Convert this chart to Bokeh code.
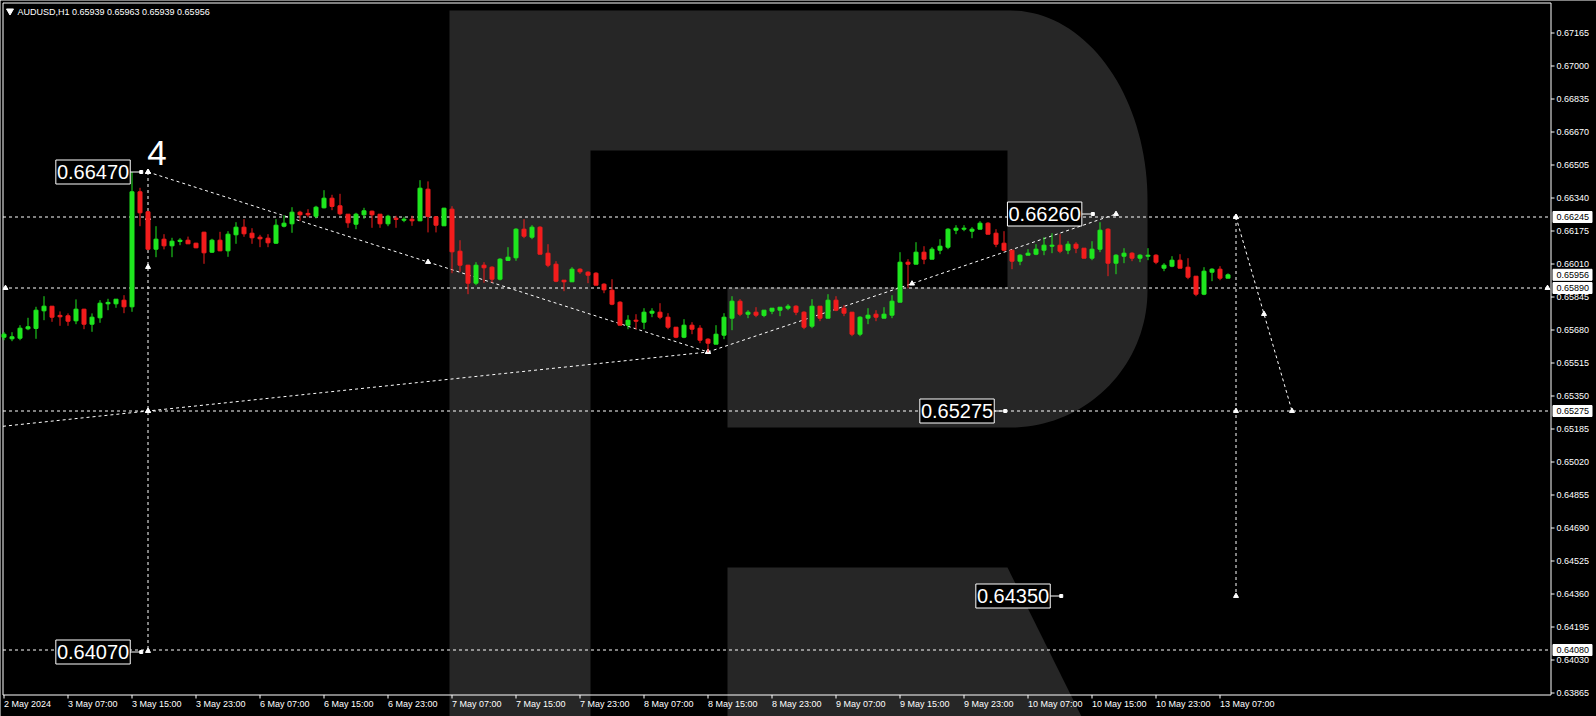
import numpy as np
from bokeh.plotting import figure
from bokeh.models import Range1d, ColumnDataSource
from bokeh.core.properties import value
from bokeh.embed import file_html
from bokeh.resources import INLINE

# ---------------- data ----------------
symbol = "AUDUSD,H1"
last_ohlc = ["0.65939", "0.65963", "0.65939", "0.65956"]

time_labels = ["2 May 2024", "3 May 07:00", "3 May 15:00", "3 May 23:00", "6 May 07:00",
               "6 May 15:00", "6 May 23:00", "7 May 07:00", "7 May 15:00", "7 May 23:00",
               "8 May 07:00", "8 May 15:00", "8 May 23:00", "9 May 07:00", "9 May 15:00",
               "9 May 23:00", "10 May 07:00", "10 May 15:00", "10 May 23:00", "13 May 07:00"]
bars_per_label = 8

open_ = [0.65644, 0.65636, 0.65639, 0.65686, 0.65688, 0.65776, 0.65799, 0.65753, 0.65751, 0.65726,
         0.65784, 0.65709, 0.65741, 0.65811, 0.65811, 0.65829, 0.65796, 0.66371, 0.66271, 0.66084,
         0.66134, 0.66101, 0.66123, 0.66129, 0.66114, 0.66169, 0.66069, 0.66129, 0.66076, 0.66156,
         0.66194, 0.66164, 0.66144, 0.66139, 0.66114, 0.66199, 0.66211, 0.66269, 0.66263, 0.66249,
         0.66291, 0.66339, 0.66301, 0.66259, 0.66209, 0.66256, 0.66274, 0.66259, 0.66211, 0.66239,
         0.66229, 0.66234, 0.66226, 0.66384, 0.66246, 0.66201, 0.66284, 0.66074, 0.66004, 0.65914,
         0.66004, 0.65994, 0.65934, 0.66028, 0.66041, 0.66184, 0.66144, 0.66194, 0.66064, 0.66009,
         0.65929, 0.65921, 0.65984, 0.65969, 0.65964, 0.65909, 0.65879, 0.65819, 0.65704, 0.65729,
         0.65719, 0.65764, 0.65769, 0.65744, 0.65694, 0.65644, 0.65704, 0.65689, 0.65634, 0.65609,
         0.65654, 0.65739, 0.65824, 0.65759, 0.65769, 0.65753, 0.65774, 0.65779, 0.65789, 0.65799,
         0.65769, 0.65699, 0.65799, 0.65739, 0.65829, 0.65789, 0.65769, 0.65659, 0.65739, 0.65759,
         0.65739, 0.65754, 0.65819, 0.66019, 0.66009, 0.66069, 0.66034, 0.66079, 0.66094, 0.66179,
         0.66184, 0.66174, 0.66184, 0.66214, 0.66164, 0.66114, 0.66079, 0.66024, 0.66054, 0.66059,
         0.66079, 0.66099, 0.66104, 0.66079, 0.66109, 0.66089, 0.66039, 0.66084, 0.66184, 0.66014,
         0.66049, 0.66064, 0.66039, 0.66049, 0.66054, 0.65989, 0.65999, 0.66029, 0.65994, 0.65949,
         0.65859, 0.65969, 0.65984, 0.65939]
high = [0.65669, 0.65669, 0.65704, 0.65741, 0.65796, 0.65849, 0.65799, 0.65773, 0.65763, 0.65833,
        0.65786, 0.65763, 0.65829, 0.65836, 0.65834, 0.65854, 0.66470, 0.66391, 0.66276, 0.66199,
        0.66159, 0.66141, 0.66139, 0.66147, 0.66116, 0.66171, 0.66136, 0.66171, 0.66174, 0.66219,
        0.66234, 0.66189, 0.66156, 0.66159, 0.66234, 0.66254, 0.66294, 0.66276, 0.66284, 0.66301,
        0.66379, 0.66356, 0.66361, 0.66259, 0.66266, 0.66291, 0.66277, 0.66259, 0.66256, 0.66251,
        0.66246, 0.66251, 0.66429, 0.66423, 0.66248, 0.66291, 0.66299, 0.66129, 0.66006, 0.66019,
        0.66019, 0.65999, 0.66039, 0.66094, 0.66189, 0.66234, 0.66204, 0.66199, 0.66109, 0.66024,
        0.65929, 0.65994, 0.65989, 0.65974, 0.65969, 0.65914, 0.65934, 0.65824, 0.65754, 0.65759,
        0.65789, 0.65789, 0.65814, 0.65764, 0.65694, 0.65734, 0.65719, 0.65704, 0.65639, 0.65704,
        0.65764, 0.65849, 0.65834, 0.65779, 0.65794, 0.65779, 0.65789, 0.65794, 0.65809, 0.65804,
        0.65774, 0.65834, 0.65799, 0.65859, 0.65849, 0.65804, 0.65769, 0.65749, 0.65789, 0.65779,
        0.65794, 0.65854, 0.66069, 0.66034, 0.66119, 0.66099, 0.66094, 0.66134, 0.66189, 0.66204,
        0.66204, 0.66194, 0.66224, 0.66219, 0.66184, 0.66174, 0.66079, 0.66059, 0.66084, 0.66109,
        0.66144, 0.66164, 0.66159, 0.66124, 0.66119, 0.66089, 0.66124, 0.66219, 0.66189, 0.66059,
        0.66089, 0.66069, 0.66059, 0.66089, 0.66059, 0.66014, 0.66049, 0.66059, 0.66039, 0.65949,
        0.65994, 0.65989, 0.65999, 0.65963]
low = [0.65629, 0.65624, 0.65629, 0.65679, 0.65636, 0.65729, 0.65721, 0.65701, 0.65701, 0.65709,
       0.65684, 0.65671, 0.65716, 0.65779, 0.65791, 0.65764, 0.65771, 0.66199, 0.66079, 0.66044,
       0.66083, 0.66044, 0.66104, 0.66111, 0.66089, 0.66011, 0.66066, 0.66074, 0.66046, 0.66111,
       0.66146, 0.66111, 0.66094, 0.66094, 0.66111, 0.66193, 0.66166, 0.66226, 0.66244, 0.66238,
       0.66288, 0.66279, 0.66253, 0.66191, 0.66184, 0.66236, 0.66191, 0.66191, 0.66199, 0.66191,
       0.66219, 0.66201, 0.66224, 0.66168, 0.66168, 0.66201, 0.65964, 0.65971, 0.65859, 0.65904,
       0.65916, 0.65916, 0.65928, 0.66026, 0.66026, 0.66139, 0.66134, 0.66059, 0.65994, 0.65919,
       0.65874, 0.65921, 0.65961, 0.65914, 0.65904, 0.65864, 0.65804, 0.65704, 0.65684, 0.65684,
       0.65684, 0.65744, 0.65734, 0.65684, 0.65639, 0.65639, 0.65659, 0.65614, 0.65569, 0.65609,
       0.65634, 0.65679, 0.65749, 0.65739, 0.65744, 0.65744, 0.65759, 0.65749, 0.65779, 0.65754,
       0.65684, 0.65689, 0.65724, 0.65739, 0.65774, 0.65749, 0.65649, 0.65649, 0.65709, 0.65724,
       0.65739, 0.65739, 0.65819, 0.65889, 0.66009, 0.66009, 0.66034, 0.66059, 0.66084, 0.66159,
       0.66174, 0.66139, 0.66184, 0.66159, 0.66094, 0.66074, 0.65984, 0.66004, 0.66054, 0.66054,
       0.66054, 0.66064, 0.66064, 0.66059, 0.66064, 0.66039, 0.66029, 0.66069, 0.65949, 0.65959,
       0.66014, 0.66024, 0.66019, 0.66029, 0.66009, 0.65974, 0.65994, 0.65989, 0.65934, 0.65849,
       0.65854, 0.65924, 0.65929, 0.65939]
close = [0.65659, 0.65646, 0.65689, 0.65696, 0.65779, 0.65799, 0.65744, 0.65746, 0.65724, 0.65784,
         0.65709, 0.65744, 0.65814, 0.65818, 0.65834, 0.65796, 0.66371, 0.66266, 0.66084, 0.66134,
         0.66101, 0.66124, 0.66129, 0.66111, 0.66091, 0.66066, 0.66129, 0.66076, 0.66159, 0.66194,
         0.66161, 0.66141, 0.66136, 0.66116, 0.66204, 0.66214, 0.66269, 0.66256, 0.66256, 0.66294,
         0.66339, 0.66298, 0.66261, 0.66216, 0.66259, 0.66276, 0.66256, 0.66211, 0.66249, 0.66233,
         0.66234, 0.66226, 0.66389, 0.66248, 0.66204, 0.66289, 0.66071, 0.66004, 0.65914, 0.66004,
         0.65991, 0.65934, 0.66034, 0.66044, 0.66184, 0.66149, 0.66194, 0.66059, 0.66004, 0.65924,
         0.65921, 0.65984, 0.65971, 0.65954, 0.65904, 0.65881, 0.65809, 0.65704, 0.65729, 0.65724,
         0.65769, 0.65774, 0.65744, 0.65694, 0.65644, 0.65704, 0.65684, 0.65629, 0.65614, 0.65659,
         0.65744, 0.65824, 0.65759, 0.65769, 0.65754, 0.65779, 0.65789, 0.65794, 0.65799, 0.65769,
         0.65694, 0.65799, 0.65739, 0.65829, 0.65779, 0.65764, 0.65659, 0.65744, 0.65754, 0.65744,
         0.65759, 0.65824, 0.66019, 0.66009, 0.66069, 0.66034, 0.66084, 0.66099, 0.66184, 0.66189,
         0.66189, 0.66184, 0.66214, 0.66159, 0.66109, 0.66079, 0.66024, 0.66054, 0.66064, 0.66084,
         0.66104, 0.66104, 0.66074, 0.66109, 0.66089, 0.66039, 0.66084, 0.66179, 0.66014, 0.66054,
         0.66064, 0.66039, 0.66054, 0.66054, 0.66019, 0.66004, 0.66029, 0.65989, 0.65944, 0.65859,
         0.65974, 0.65984, 0.65939, 0.65956]

price_ticks = [0.67165, 0.67000, 0.66835, 0.66670, 0.66505, 0.66340, 0.66175, 0.66010, 0.65845,
               0.65680, 0.65515, 0.65350, 0.65185, 0.65020, 0.64855, 0.64690, 0.64525, 0.64360,
               0.64195, 0.64030, 0.63865]
levels = [0.66245, 0.65890, 0.65275, 0.64080]
axis_tags = [0.66245, 0.65956, 0.65890, 0.65275, 0.64080]

# wave / forecast annotation points (bar index, price)
down_x, down_y = [18, 53, 88], [0.66470, 0.66020, 0.65570]
lowline_x, lowline_y = [18, 88], [0.65275, 0.65570]
up_x, up_y = [88, 113.5, 139], [0.65570, 0.65912, 0.66260]
vleft_x, vleft_y = 18, [0.66470, 0.66240, 0.65995, 0.65275, 0.64075]
vright_x, vright_y = 154, [0.66245, 0.65275, 0.64350]
diag_x, diag_y = [154, 157.5, 161], [0.66245, 0.65760, 0.65275]
target_text = ["0.66470", "0.64070", "0.66260", "0.65275", "0.64350"]
target_price = [0.66470, 0.64070, 0.66260, 0.65275, 0.64350]
target_box_right = [15.78, 15.78, 134.73, 123.78, 130.78]   # bar position of box right edge
wave_label, wave_label_x, wave_label_p = "4", 17.9, 0.66567

# ---------------- layout / scales ----------------
W, H = 1596, 716
PXB = 8.0            # pixels per bar
PXP = 20000.0        # pixels per price unit
X0 = -0.4375         # bar index at canvas left
P0 = 0.673275        # price at canvas top

def bx(px):
    return X0 + px / PXB

def pp(py):
    return P0 - py / PXP

GREEN = "#1ee61e"
RED = "#f21c1c"
WM = "#262626"
FONT = value("Liberation Sans")

p = figure(width=W, height=H, title=None,
           x_range=Range1d(X0, X0 + W / PXB), y_range=Range1d(P0 - H / PXP, P0),
           toolbar_location=None, output_backend="svg", min_border=0,
           x_axis_location=None, y_axis_location=None,
           background_fill_color="#000000", border_fill_color="#000000",
           outline_line_color=None)
p.xgrid.visible = False
p.ygrid.visible = False
p.styles = {"position": "absolute", "left": "0px", "top": "0px"}

# ---------------- watermark "R" ----------------
t1 = np.linspace(-np.pi / 2, 0, 40)
t2 = np.linspace(0, np.pi / 2, 40)
ax = [449, 449] + list(1010 + 137 * np.cos(t1)) + list(1010 + 137 * np.cos(t2)) + [727, 727, 1007, 1007, 590, 590]
ay = [716, 10] + list(200 + 190 * np.sin(t1)) + list(290 + 137 * np.sin(t2)) + [427, 287, 287, 150, 150, 716]
lx = [727, 1007, 1081, 727]
ly = [567, 567, 716, 716]
p.patches(xs=[[bx(v) for v in ax], [bx(v) for v in lx]],
          ys=[[pp(v) for v in ay], [pp(v) for v in ly]],
          fill_color=WM, line_color=None)

# ---------------- frame ----------------
fl, fr, ft, fb = bx(2.5), bx(1550.5), pp(2.5), pp(694.5)
p.multi_line(xs=[[fl, fr, fr, fl, fl]], ys=[[ft, ft, fb, fb, ft]], line_color="white", line_width=1)

# ---------------- level lines ----------------
p.multi_line(xs=[[fl, fr] for _ in levels], ys=[[lv, lv] for lv in levels],
             line_color="white", line_width=1, line_dash="3 3")

# ---------------- wave lines ----------------
slope = (lowline_y[1] - lowline_y[0]) / (lowline_x[1] - lowline_x[0])
low_left = lowline_y[0] + slope * (fl - lowline_x[0])
wave_xs = [down_x, [fl] + lowline_x, up_x, [vleft_x, vleft_x], [vright_x, vright_x], diag_x]
wave_ys = [down_y, [low_left] + lowline_y, up_y, [vleft_y[0], vleft_y[-1]],
           [vright_y[0], vright_y[-1]], diag_y]
p.multi_line(xs=wave_xs, ys=wave_ys, line_color="white", line_width=1, line_dash="3 3")

mx = (down_x + [lowline_x[0]] + up_x + [vleft_x] * len(vleft_y) + [vright_x] * len(vright_y)
      + diag_x + [bx(5), bx(1547)])
my = (down_y + [lowline_y[0]] + up_y + vleft_y + vright_y + diag_y + [levels[1], levels[1]])
p.scatter(x=mx, y=my, marker="triangle", size=5, fill_color="white", line_color="white")

# ---------------- candles ----------------
o = np.array(open_)
c = np.array(close)
idx = np.arange(len(o))
cols = np.where(c >= o, GREEN, RED)
src = ColumnDataSource(dict(x=idx, top=np.maximum(o, c), bottom=np.minimum(o, c),
                            high=high, low=low, color=cols))
p.segment(x0="x", y0="high", x1="x", y1="low", line_color="color", line_width=1, source=src)
p.vbar(x="x", width=0.5, top="top", bottom="bottom", fill_color="color",
       line_color="color", line_width=1, source=src)

# ---------------- target boxes ----------------
bw = 74.4 / PXB
bh = 12 / PXP
rights = np.array(target_box_right)
tp = np.array(target_price)
p.quad(left=rights - bw, right=rights, top=tp + bh, bottom=tp - bh,
       fill_color="black", line_color="white", line_width=1)
p.text(x=rights - bw / 2, y=tp, text=target_text, text_color="white",
       text_font=FONT, text_font_size="20px",
       text_align="center", text_baseline="middle")
p.segment(x0=rights, y0=tp, x1=rights + 11 / PXB, y1=tp, line_color="white", line_width=1)
p.scatter(x=rights + 11 / PXB, y=tp, marker="square", size=3, fill_color="white", line_color="white")

p.text(x=[wave_label_x], y=[wave_label_p], text=[wave_label], text_color="white",
       text_font=FONT, text_font_size="35px", text_align="left", text_baseline="alphabetic")

# ---------------- price axis ----------------
p.segment(x0=[fr] * len(price_ticks), y0=price_ticks, x1=[bx(1554)] * len(price_ticks), y1=price_ticks,
          line_color="white", line_width=1)
p.text(x=[bx(1556)] * len(price_ticks), y=price_ticks, text=["%.5f" % v for v in price_ticks],
       text_color="white", text_font=FONT, text_font_size="9px",
       text_align="left", text_baseline="middle")
tags = np.array(axis_tags)
p.quad(left=bx(1552.5), right=bx(1591.5), top=tags + 5.5 / PXP, bottom=tags - 5.5 / PXP,
       fill_color="white", line_color="white")
p.text(x=[bx(1556)] * len(tags), y=tags, text=["%.5f" % v for v in axis_tags],
       text_color="black", text_font=FONT, text_font_size="9px",
       text_align="left", text_baseline="middle")

# ---------------- time axis ----------------
tick_bars = [i * bars_per_label for i in range(len(time_labels))]
p.segment(x0=tick_bars, y0=[fb] * len(tick_bars), x1=tick_bars, y1=[pp(698)] * len(tick_bars),
          line_color="white", line_width=1)
p.text(x=tick_bars, y=[pp(703.5)] * len(tick_bars), text=time_labels, text_color="white",
       text_font=FONT, text_font_size="9px", text_align="left", text_baseline="middle")

# ---------------- header ----------------
p.scatter(x=[bx(9.5)], y=[pp(10.5)], marker="inverted_triangle", size=7,
          fill_color="white", line_color="white")
p.text(x=[bx(17)], y=[pp(11)], text=[symbol + "  " + " ".join(last_ohlc)], text_color="white",
       text_font=FONT, text_font_size="9px", text_align="left", text_baseline="middle")

open("out.html", "w").write(file_html(p, INLINE))
